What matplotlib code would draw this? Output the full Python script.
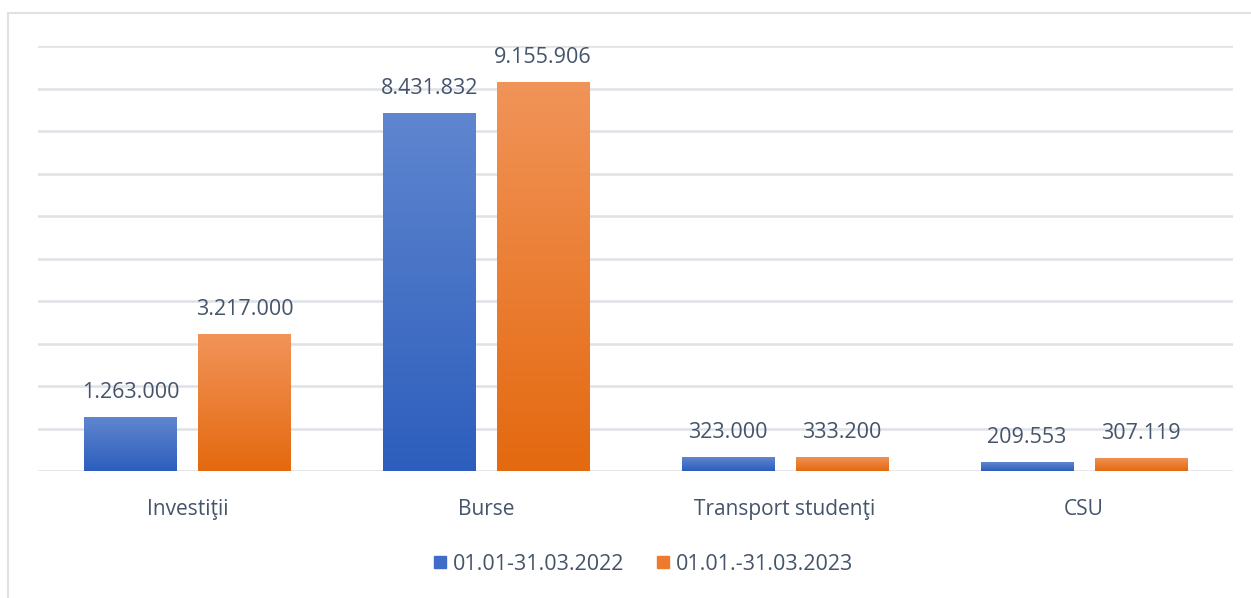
import numpy as np
import matplotlib
matplotlib.use("Agg")
from matplotlib import pyplot as plt
from matplotlib.patches import Rectangle
from matplotlib.colors import LinearSegmentedColormap
from matplotlib.lines import Line2D

categories = ["Investiţii", "Burse", "Transport studenţi", "CSU"]
series_names = ["01.01-31.03.2022", "01.01.-31.03.2023"]
values_2022 = [1263000, 8431832, 323000, 209553]
values_2023 = [3217000, 9155906, 333200, 307119]

text_color = "#44546A"
grid_color = "#DEE1E6"
blue_top, blue_bot = "#5F86CF", "#2D5EBD"
orange_top, orange_bot = "#F19459", "#E4690F"

plt.rcParams['font.family'] = ['Open Sans', 'DejaVu Sans']


def fmt(v):
    return f"{v:,}".replace(",", ".")


def gradient_bar(ax, bar, c_top, c_bot):
    x, y = bar.get_x(), bar.get_y()
    w, h = bar.get_width(), bar.get_height()
    cmap = LinearSegmentedColormap.from_list("g", [c_bot, c_top])
    grad = np.linspace(0, 1, 256).reshape(-1, 1)
    im = ax.imshow(grad, cmap=cmap, aspect="auto", origin="lower",
                   extent=(x, x + w, y, y + h), zorder=3)
    im.set_clip_path(bar)
    bar.set_facecolor("none")


fig = plt.figure(figsize=(12.51, 5.98), dpi=100)
W, H = 1251, 598

# outer frame of the chart area
fig.patches.append(Rectangle((8 / W, -0.1), 1.2, 1 - 13 / H + 0.1,
                             transform=fig.transFigure, fill=False,
                             edgecolor=grid_color, linewidth=1.5))

ax = fig.add_axes([38 / W, 127 / H, (1233 - 38) / W, (552 - 127) / H])
x = np.arange(len(categories))
bw = 0.308
gap = 0.074
off = (bw + gap) / 2

bars1 = ax.bar(x - off, values_2022, bw, zorder=3, edgecolor="white", linewidth=0.6)
bars2 = ax.bar(x + off, values_2023, bw, zorder=3, edgecolor="white", linewidth=0.6)
for b in bars1:
    gradient_bar(ax, b, blue_top, blue_bot)
for b in bars2:
    gradient_bar(ax, b, orange_top, orange_bot)

for bars, vals in ((bars1, values_2022), (bars2, values_2023)):
    for b, v in zip(bars, vals):
        ax.annotate(fmt(v), (b.get_x() + b.get_width() / 2, v),
                    xytext=(0, 10), textcoords="offset points",
                    ha="center", va="bottom", fontsize=15.5, color=text_color)

ax.set_xlim(-0.5, len(categories) - 0.5)
ax.set_ylim(0, 10000000)
ax.set_yticks(np.arange(0, 10000001, 1000000))
ax.yaxis.grid(True, color=grid_color, linewidth=1.8, zorder=0)
ax.set_axisbelow(True)
ax.tick_params(axis="y", left=False, labelleft=False)
ax.tick_params(axis="x", bottom=False, pad=17, labelsize=15, labelcolor=text_color)
ax.set_xticks(x)
ax.set_xticklabels(categories)
for s in ax.spines.values():
    s.set_visible(False)
ax.patch.set_alpha(0)

handles = [Line2D([], [], marker="s", linestyle="none", markersize=9,
                  markerfacecolor=c, markeredgecolor=c)
           for c in ("#3F6CC8", "#EE7A2E")]
fig.legend(handles, series_names, loc="center", bbox_to_anchor=(641 / W, 1 - 564 / H),
           ncol=2, frameon=False, fontsize=15.5, labelcolor=text_color,
           handletextpad=0.1, columnspacing=1.3, handlelength=1.0)

fig.savefig("out.png", dpi=100)
